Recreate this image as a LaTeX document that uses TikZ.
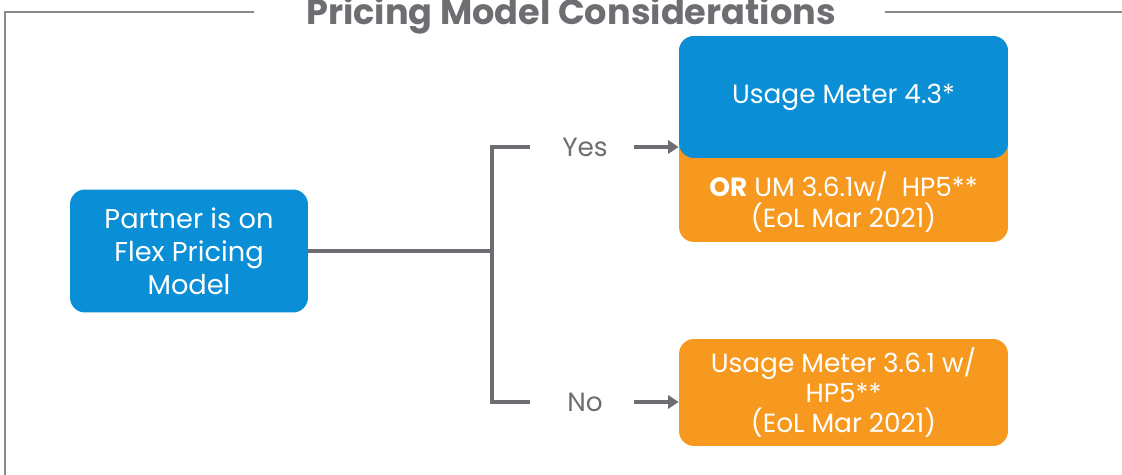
\documentclass[tikz,border=0pt]{standalone}
\usepackage{fontspec}
\setmainfont{Poppins}
\usetikzlibrary{arrows.meta,positioning}
\definecolor{flexblue}{HTML}{0A8FD6}
\definecolor{flexorange}{HTML}{F7991F}
\definecolor{linegray}{HTML}{6D6E71}
\definecolor{framegray}{HTML}{8A8A8A}

\begin{document}
\begin{tikzpicture}[x=0.02cm, y=-0.02cm,
        box/.style={rounded corners=0.3cm, inner sep=0pt, text=white, align=center,
            font=\fontsize{15}{17.2}\selectfont},
        label/.style={text=linegray, font=\fontsize{15}{18}\selectfont},
        link/.style={linegray, line width=2.3pt},
        pointer/.style={linegray, line width=2.3pt, -{Triangle[length=6pt, width=7.5pt]}},
        frame/.style={framegray, line width=0.8pt}
    ]
    \useasboundingbox (0,0) rectangle (1122,475);
    \node[anchor=base, text=linegray, font=\fontsize{20}{22}\bfseries\selectfont] (title) at (571,25) {Pricing Model Considerations};
    \coordinate (corner) at (5,12);
    \coordinate (rim) at (1122,12);
    \draw[frame] ([xshift=-46*0.02cm]title.west |- corner) -- (corner) -- (5,475);
    \draw[frame] ([xshift=43*0.02cm]title.east |- rim) -- (rim);

    \node[box, fill=flexblue, minimum width=4.76cm, minimum height=2.46cm,
        font=\fontsize{15.5}{18.8}\selectfont] (partner) at (189,251) {Partner is on\\Flex Pricing\\Model};

    \node[box, fill=flexorange, minimum width=6.58cm, minimum height=4.12cm] (oldum) at (843.5,139) {};
    \node[box, fill=flexblue, minimum width=6.58cm, minimum height=2.44cm] (um43) at (843.5,97) {Usage Meter 4.3*};
    \node[box] (oldtext) at (843.5,202) {\textbf{OR} UM 3.6.1w/\ \ HP5**\\(EoL Mar 2021)};
    \node[box, fill=flexorange, minimum width=6.58cm, minimum height=2.14cm] (um361) at (843.5,392.5) {Usage Meter 3.6.1 w/\\HP5**\\(EoL Mar 2021)};

    \coordinate (fork) at (492,251);
    \node[label] (yes) at (585,147) {Yes};
    \node[label] (no) at (585,402) {No};
    \coordinate (yesstub) at (530,147);
    \coordinate (nostub) at (530,402);

    \draw[link] (partner.east) -- (fork);
    \draw[link] (yesstub) -- (fork |- yesstub) -- (fork |- nostub) -- (nostub);
    \draw[pointer] ([xshift=0.4cm]yes.east) -- (um43.west |- yes);
    \draw[pointer] ([xshift=0.4cm]yes.east |- no) -- (um361.west |- no);
\end{tikzpicture}
\end{document}
